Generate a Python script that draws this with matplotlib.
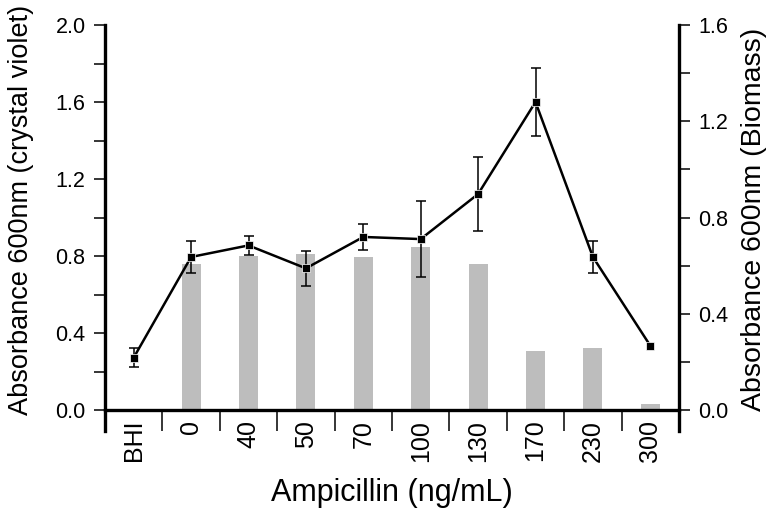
import numpy as np
import matplotlib
matplotlib.use("Agg")
import matplotlib.pyplot as plt
from matplotlib.ticker import FixedLocator

plt.rcParams['font.family'] = ['Liberation Sans', 'DejaVu Sans']

categories = ["BHI", "0", "40", "50", "70", "100", "130", "170", "230", "300"]
crystal_violet = [0.272, 0.795, 0.855, 0.736, 0.899, 0.888, 1.122, 1.600, 0.795, 0.334]
crystal_err = [0.048, 0.085, 0.050, 0.090, 0.066, 0.197, 0.194, 0.176, 0.082, np.nan]
biomass = [0.0, 0.605, 0.641, 0.650, 0.634, 0.677, 0.608, 0.245, 0.256, 0.024]

x = np.arange(len(categories))

fig = plt.figure(figsize=(7.75, 5.13), dpi=100)
ax = fig.add_axes([105/775, 1-431/513, 574/775, 406/513])
ax2 = ax.twinx()

# bars (biomass, right axis)
ax2.bar(x, biomass, width=0.33, color='#bdbdbd', zorder=1)

# line with error bars (crystal violet, left axis)
ax.set_zorder(ax2.get_zorder() + 1)
ax.patch.set_visible(False)
ax.errorbar(x, crystal_violet, yerr=np.array(crystal_err), fmt='none', ecolor='black',
            elinewidth=1.1, capsize=3.8, capthick=1.1, zorder=3)
ax.plot(x, crystal_violet, color='black', lw=1.8, marker='s', ms=6,
        mfc='black', mec='white', mew=0.5, zorder=4)

# axes limits
ax.set_xlim(-0.5, len(categories) - 0.5)
ax.set_ylim(-0.109, 2.0)
ax2.set_ylim(-0.0872, 1.6)

# spines
ax.spines['top'].set_visible(False)
ax2.spines['top'].set_visible(False)
ax2.spines['bottom'].set_visible(False)
ax2.spines['left'].set_visible(False)
ax.spines['right'].set_visible(False)
ax.spines['bottom'].set_position(('data', 0))
for s in ['left', 'bottom']:
    ax.spines[s].set_linewidth(2.4)
ax2.spines['right'].set_linewidth(2.4)

# y ticks
ax.yaxis.set_major_locator(FixedLocator([0.0, 0.4, 0.8, 1.2, 1.6, 2.0]))
ax.yaxis.set_minor_locator(FixedLocator([0.2, 0.6, 1.0, 1.4, 1.8]))
ax.set_yticklabels(["0.0", "0.4", "0.8", "1.2", "1.6", "2.0"])
ax.tick_params(axis='y', which='both', direction='out', length=8, width=1.1, labelsize=15.5, pad=6)

ax2.yaxis.set_major_locator(FixedLocator([0.0, 0.4, 0.8, 1.2, 1.6]))
ax2.yaxis.set_minor_locator(FixedLocator([0.2, 0.6, 1.0, 1.4]))
ax2.set_yticklabels(["0.0", "0.4", "0.8", "1.2", "1.6"])
ax2.tick_params(axis='y', which='both', direction='out', length=8, width=1.1, labelsize=15.5, pad=6)

# x ticks: labels at categories, separators between them
ax.set_xticks(x)
ax.set_xticklabels(categories, rotation=90)
ax.xaxis.set_minor_locator(FixedLocator(x[:-1] + 0.5))
ax.tick_params(axis='x', which='major', length=0, labelsize=18, pad=7)
ax.tick_params(axis='x', which='minor', direction='out', length=15, width=1.1)

# labels
ax.set_xlabel("Ampicillin (ng/mL)", fontsize=22)
ax.xaxis.set_label_coords(0.5, -0.115)
ax.set_ylabel("Absorbance 600nm (crystal violet)", fontsize=19.5, va='center')
ax.yaxis.set_label_coords(-0.146, 0.544)
ax2.set_ylabel("Absorbance 600nm (Biomass)", fontsize=20.5, va='center', rotation=90)
ax2.yaxis.set_label_coords(1.1307, 0.522)

fig.savefig("out.png", dpi=100)
